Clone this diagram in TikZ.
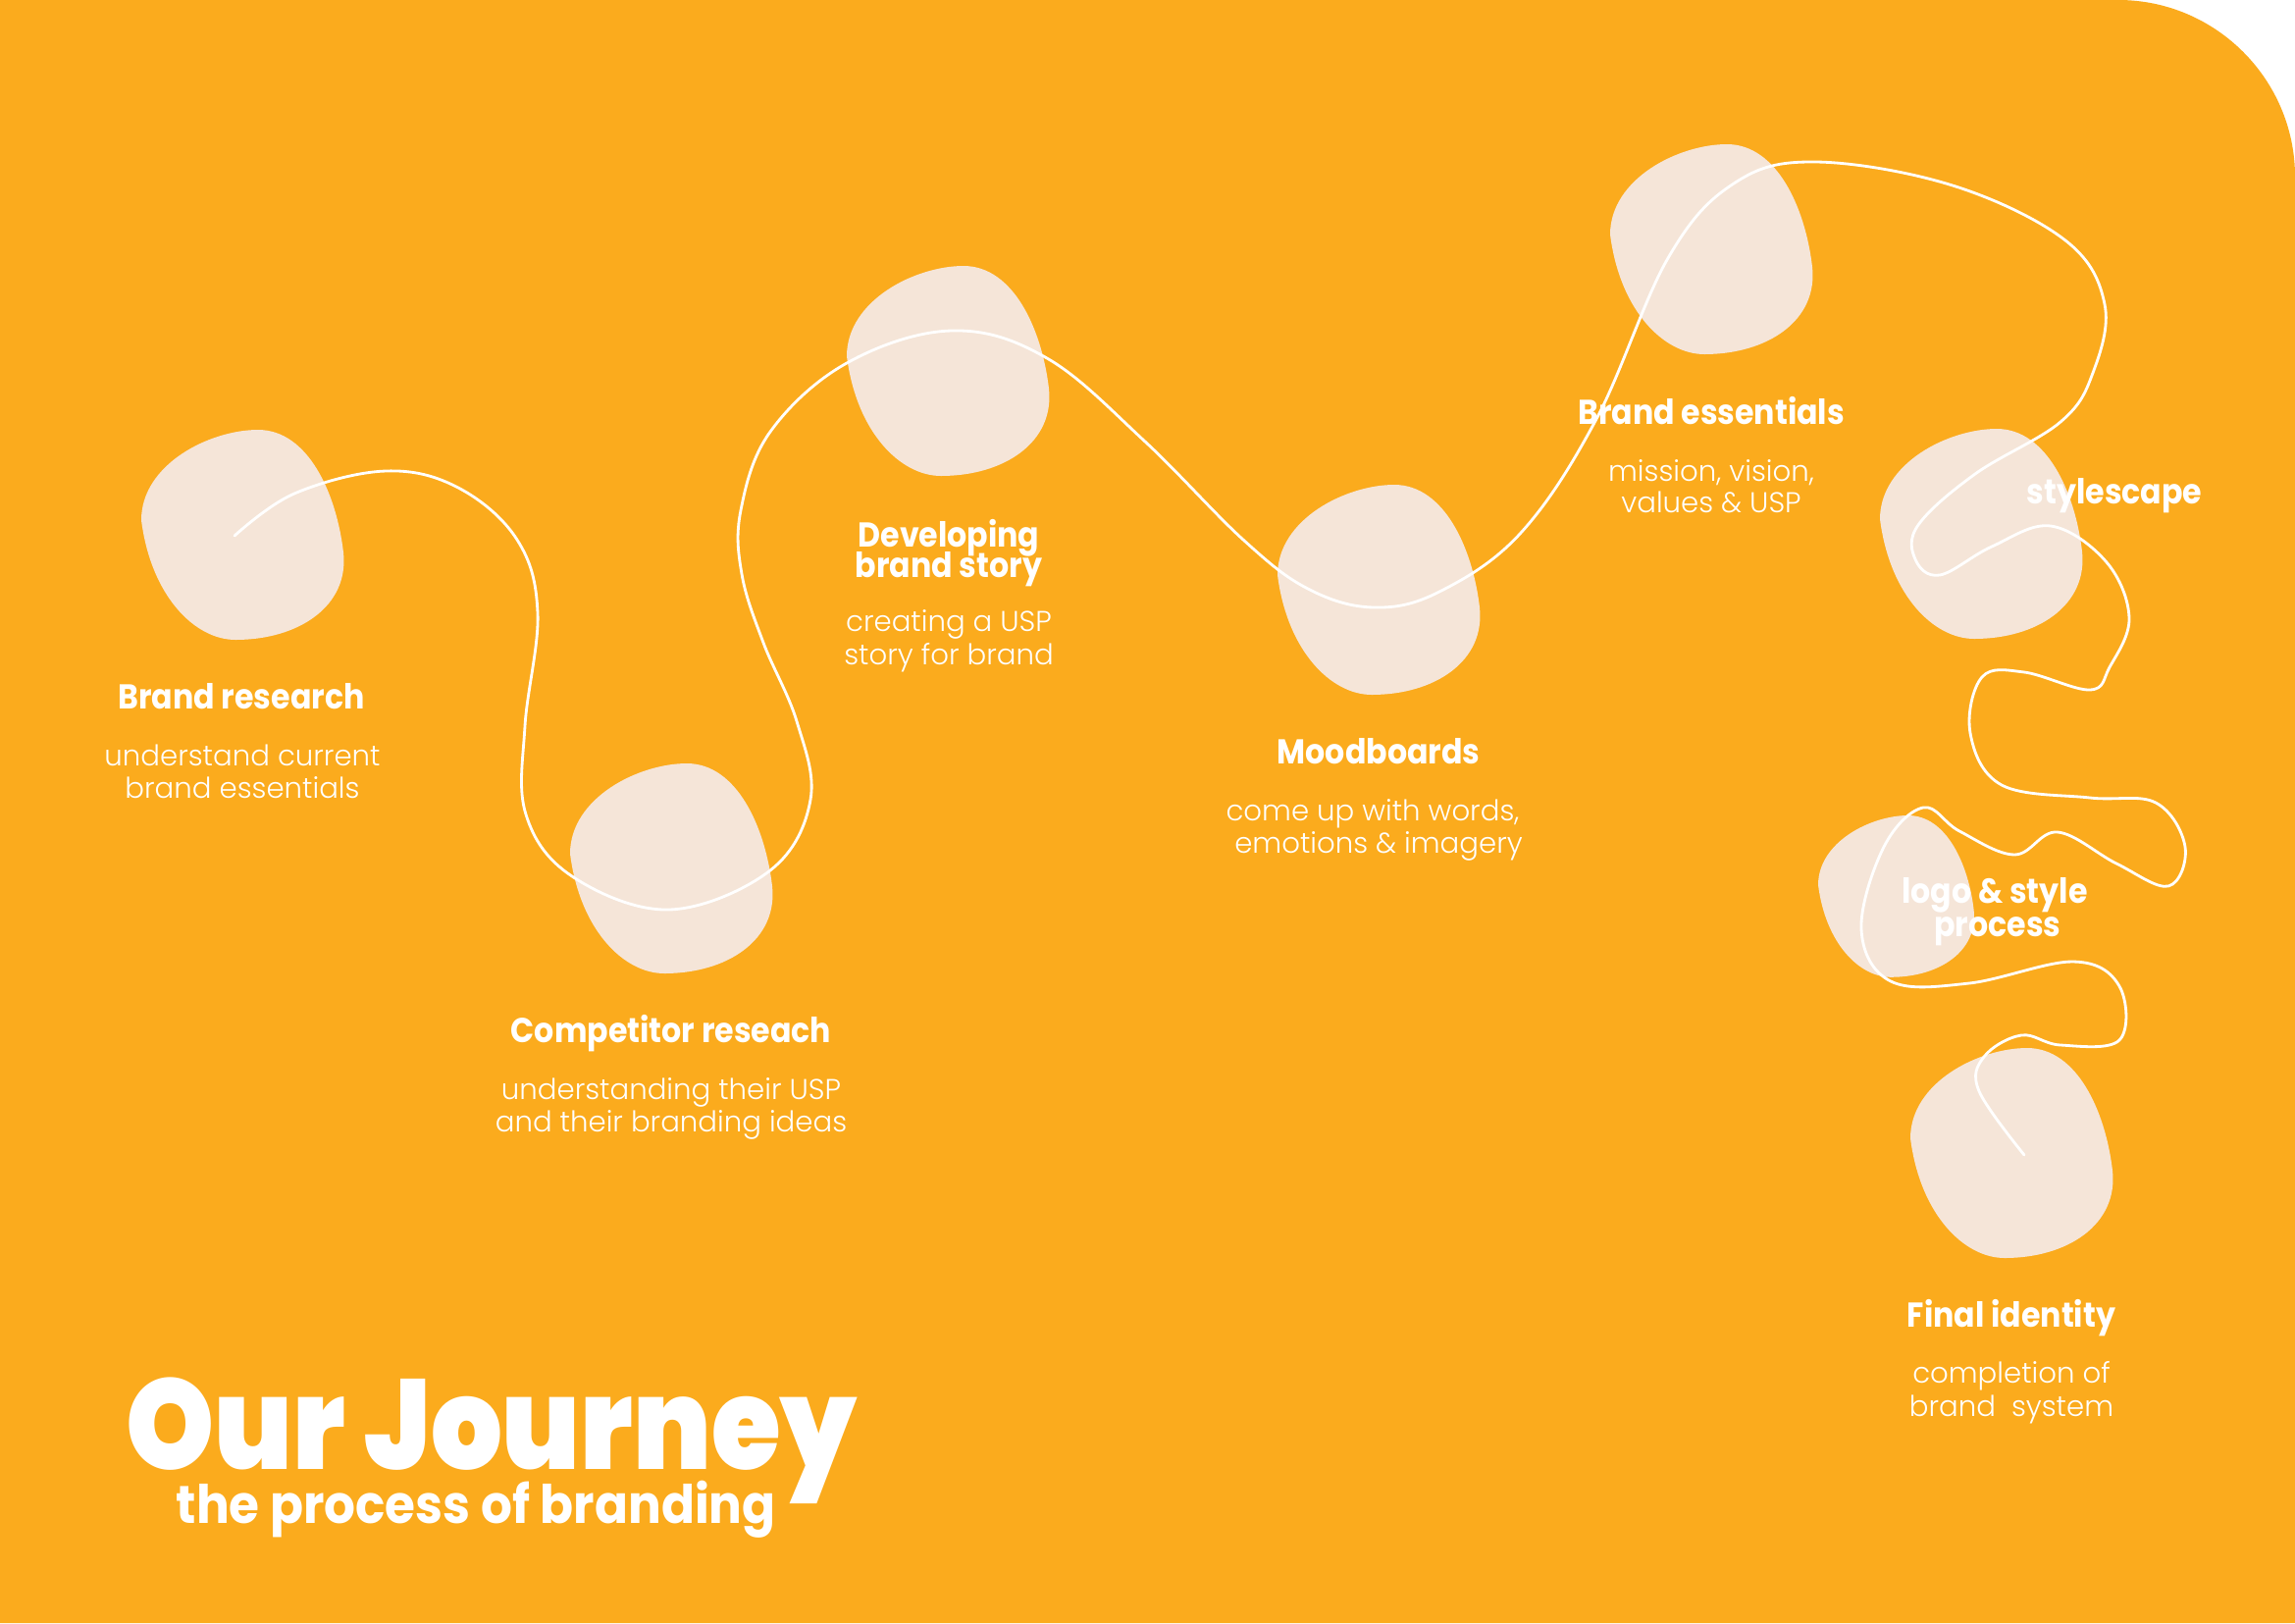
\documentclass[tikz,border=0pt]{standalone}
\usepackage{fontspec}
\newfontfamily\headf{Poppins Bold}[FakeStretch=0.9]
\newfontfamily\subf{Poppins Light}
\newfontfamily\titf{Poppins Black}[FakeStretch=0.88]
\newfontfamily\stitf{Poppins Bold}[FakeStretch=0.925]
\definecolor{bgc}{HTML}{FBAB1D}
\definecolor{blobc}{HTML}{F5E5D8}
\newcommand\myblob[3]{\fill[blobc, shift={(#1,#2)}, scale=#3] (0,92) .. controls (0,35) and (70,0) .. (119,0) .. controls (170,0) and (199,65) .. (206,125) .. controls (212,180) and (160,214) .. (96,214) .. controls (55,214) and (10,170) .. (0,92) -- cycle;}
\tikzset{
  head/.style={text=white, font=\headf\fontsize{10}{10}\selectfont, anchor=base, inner sep=0pt},
  sub/.style={text=white, font=\subf\fontsize{8.3}{9}\selectfont, anchor=base, inner sep=0pt},
  journey/.style={draw=white, line width=0.8pt, line cap=round, line join=round},
}
\begin{document}
\begin{tikzpicture}[x=0.01cm, y=-0.01cm]
\useasboundingbox (0,0) rectangle (2339,1654);
\fill[white] (0,0) rectangle (2339,1654);
\fill[bgc] (0,0) -- (2159,0) .. controls (2258,0) and (2339,81) .. (2339,180) -- (2339,1654) -- (0,1654) -- cycle;
% blobs
\myblob{144}{438}{1}
\myblob{581}{778}{1}
\myblob{863}{271}{1}
\myblob{1302}{494}{1}
\myblob{1641}{147}{1}
\myblob{1916}{437}{1}
\myblob{1853}{831}{0.77}
\myblob{1947}{1068}{1}
% journey line
\draw[journey] plot[smooth, tension=0.62] coordinates {
(239,546) (300,503) (393,480) (467,497) (527,550) (548,625) (535,740) (536,830) (583,893) (682,927) (785,887) (826,815) (812,735) (778,655) (756,585) (755,520) (785,440) (863,370) (970,337) (1067,365) (1167,450) (1267,550) (1333,600) (1400,619) (1467,603) (1550,543) (1627,427) (1700,263) (1767,187) (1850,165) (1990,189) (2105,245) (2145,310) (2133,380) (2100,430) (2013,483) (1955,535) (1952,570) (1977,586) (2030,557) (2090,536) (2147,573) (2170,630) (2150,680) (2130,703) (2063,685) (2020,690) (2008,747) (2040,800) (2130,813) (2197,818) (2227,863) (2210,903) (2157,880) (2097,848) (2053,871) (1997,847) (1960,823) (1920,863) (1897,947) (1927,1000) (2007,1002) (2113,980) (2160,1005) (2160,1060) (2100,1065) (2060,1055) (2022,1077) (2017,1112) (2063,1177)};
% labels
\node[head] (h1) at (246,722) {Brand research};
\node[sub] (s1a) at (247,780) {understand current};
\node[sub] (s1b) at (247,813) {brand essentials};
\node[head] (h2) at (684,1062) {Competitor reseach};
\node[sub] (s2a) at (684,1120) {understanding their USP};
\node[sub] (s2b) at (684,1153) {and their branding ideas};
\node[head] (h3a) at (967,557) {Developing};
\node[head] (h3b) at (967,588) {brand story};
\node[sub] (s3a) at (967,643) {creating a USP};
\node[sub] (s3b) at (967,677) {story for brand};
\node[head] (h4) at (1405,778) {Moodboards};
\node[sub] (s4a) at (1399,836) {come up with words,};
\node[sub] (s4b) at (1405,869) {emotions \& imagery};
\node[head] (h5) at (1744,432) {Brand essentials};
\node[sub] (s5a) at (1744,490) {mission, vision,};
\node[sub] (s5b) at (1744,522) {values \& USP};
\node[head] (h6) at (2155,513) {stylescape};
\node[head] (h7a) at (2033,920) {logo \& style};
\node[head] (h7b) at (2036,954) {process};
\node[head] (h8) at (2050,1352) {Final identity};
\node[sub] (s8a) at (2050,1409) {completion of};
\node[sub] (s8b) at (2050,1443) {brand\ \ system};
% title
\node[text=white, anchor=base west, inner sep=0pt] (title) at (128,1552) {\vbox{\baselineskip=15.4pt\lineskiplimit=-100pt\lineskip=0pt
  \hbox{\titf\fontsize{37}{37}\selectfont Our Journey}
  \hbox{\hspace*{0.51cm}\stitf\fontsize{15.4}{15.4}\selectfont the process of branding}}};
\end{tikzpicture}
\end{document}
